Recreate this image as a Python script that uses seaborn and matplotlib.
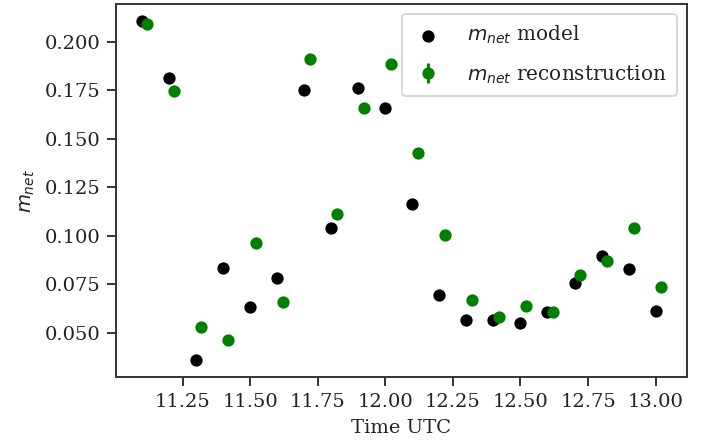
import matplotlib
matplotlib.use("Agg")
import matplotlib.pyplot as plt
import seaborn as sns
import pandas as pd

# Net mass per time step: forward model vs. reconstruction
time_model = [11.1, 11.2, 11.3, 11.4, 11.5, 11.6, 11.7, 11.8, 11.9, 12.0,
              12.1, 12.2, 12.3, 12.4, 12.5, 12.6, 12.7, 12.8, 12.9, 13.0]
m_model = [0.2107, 0.1814, 0.0358, 0.0835, 0.0632, 0.0782, 0.1753, 0.1038, 0.1761, 0.1657,
           0.1162, 0.0694, 0.0569, 0.0569, 0.0551, 0.0607, 0.0755, 0.0897, 0.0827, 0.0615]

time_recon = [11.12, 11.22, 11.32, 11.42, 11.52, 11.62, 11.72, 11.82, 11.92, 12.02,
              12.12, 12.22, 12.32, 12.42, 12.52, 12.62, 12.72, 12.82, 12.92, 13.02]
m_recon = [0.2090, 0.1744, 0.0528, 0.0464, 0.0961, 0.0657, 0.1911, 0.1110, 0.1657, 0.1887,
           0.1425, 0.1003, 0.0668, 0.0581, 0.0641, 0.0607, 0.0799, 0.0871, 0.1038, 0.0737]
m_recon_err = [0.0015, 0.0015, 0.0015, 0.0015, 0.0015, 0.0015, 0.0015, 0.0015, 0.0015, 0.0015,
               0.0015, 0.0015, 0.0015, 0.0015, 0.0015, 0.0015, 0.0015, 0.0015, 0.0015, 0.0015]

sns.set_style("ticks")
plt.rcParams.update({
    "font.family": ["DejaVu Serif"],
    "mathtext.fontset": "dejavusans",
    "font.size": 10,
    "axes.edgecolor": "#333333",
    "axes.linewidth": 1.0,
    "xtick.color": "#333333",
    "ytick.color": "#333333",
    "xtick.labelcolor": "#222222",
    "ytick.labelcolor": "#222222",
    "xtick.major.size": 4.5,
    "ytick.major.size": 4.5,
    "xtick.major.width": 1.0,
    "ytick.major.width": 1.0,
    "axes.labelcolor": "#222222",
    "text.color": "#222222",
})

dpi = 140
fig, ax = plt.subplots(figsize=(716 / dpi, 443 / dpi), dpi=dpi)
fig.subplots_adjust(left=0.162, right=0.9595, top=0.991, bottom=0.148)

df_model = pd.DataFrame({"time": time_model, "m": m_model})
sns.scatterplot(data=df_model, x="time", y="m", color="black", s=40,
                linewidth=0, ax=ax, label=r"$m_{net}$ model", zorder=2)

ax.errorbar(time_recon, m_recon, yerr=m_recon_err, fmt="o", color="green",
            markersize=6.3, markeredgewidth=0, label=r"$m_{net}$ reconstruction", zorder=3)

ax.set_xlabel("Time UTC")
ax.set_ylabel(r"$m_{net}$")
ax.set_xticks([11.25, 11.50, 11.75, 12.00, 12.25, 12.50, 12.75, 13.00])
ax.set_xticklabels(["11.25", "11.50", "11.75", "12.00", "12.25", "12.50", "12.75", "13.00"])
ax.set_yticks([0.050, 0.075, 0.100, 0.125, 0.150, 0.175, 0.200])
ax.set_yticklabels(["0.050", "0.075", "0.100", "0.125", "0.150", "0.175", "0.200"])
for side in ["top", "right", "left", "bottom"]:
    ax.spines[side].set_visible(True)

ax.legend(loc="upper right", frameon=True, fontsize=10.3, handlelength=1.6,
          handletextpad=1.15, labelspacing=0.85, borderpad=0.5)

fig.savefig("out.png", dpi=dpi)
